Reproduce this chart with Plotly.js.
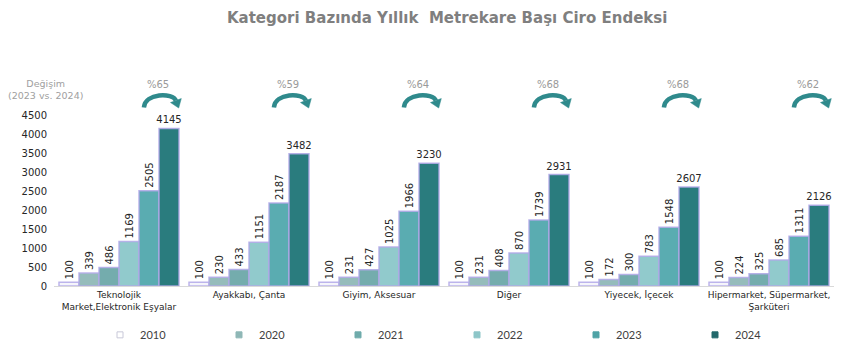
<!DOCTYPE html>
<html>
<head>
<meta charset="utf-8">
<script src="https://cdn.plot.ly/plotly-3.0.1.min.js"></script>
<style>html,body{margin:0;padding:0;background:#fff;}#chart{width:860px;height:353px;}</style>
</head>
<body>
<div id="chart"></div>
<script>
const categories = [
  "Teknolojik<br>Market,Elektronik Eşyalar",
  "Ayakkabı, Çanta",
  "Giyim, Aksesuar",
  "Diğer",
  "Yiyecek, İçecek",
  "Hipermarket, Süpermarket,<br>Şarküteri"
];
const years = ["2010", "2020", "2021", "2022", "2023", "2024"];
const v2010 = [100, 100, 100, 100, 100, 100];
const v2020 = [339, 230, 231, 231, 172, 224];
const v2021 = [486, 433, 427, 408, 300, 325];
const v2022 = [1169, 1151, 1025, 870, 783, 685];
const v2023 = [2505, 2187, 1966, 1739, 1548, 1311];
const v2024 = [4145, 3482, 3230, 2931, 2607, 2126];
const changePct = [65, 59, 64, 68, 68, 62];
const yTicks = [0, 500, 1000, 1500, 2000, 2500, 3000, 3500, 4000, 4500];

const seriesValues = [v2010, v2020, v2021, v2022, v2023, v2024];
const barColors = ["#f5f5fb", "#95bcbb", "#74acad", "#91cacc", "#5aacb1", "#2a7c7e"];
const legendColors = ["#ffffff", "#8fb7b6", "#6fabab", "#8dc6c8", "#4fa3a6", "#22686b"];

const traces = [];
seriesValues.forEach((vals, k) => {
  traces.push({
    type: "bar",
    name: years[k],
    x: categories,
    y: vals,
    text: vals.map(String),
    textposition: "outside",
    textangle: k === 5 ? 0 : -90,
    constraintext: "none",
    cliponaxis: false,
    textfont: {family: "DejaVu Sans", size: 10, color: "#262626"},
    marker: {color: barColors[k], line: {color: "rgba(178,168,232,0.85)", width: 1.5}},
    showlegend: false,
    hoverinfo: "x+y+name"
  });
});
// legend entries (small square markers)
seriesValues.forEach((vals, k) => {
  traces.push({
    type: "scatter", mode: "markers", name: years[k],
    x: [null], y: [null],
    marker: {symbol: "square", size: 6, color: legendColors[k], line: {color: k === 0 ? "#c8c8d8" : legendColors[k], width: 1}},
    showlegend: true, hoverinfo: "skip"
  });
});

const W = 780, H = 171.5; // plot area px
const px = d => d / W;
const baseY = 286;
const yp = p => ((baseY - p) / H).toFixed(5); // screen y to paper
const teal = "#2f8a8c";

const shapes = [];
const annotations = [];
categories.forEach((c, i) => {
  const cx = (i + 0.5 + 0.33) / 6;
  const X = d => (cx + px(d)).toFixed(5);
  shapes.push({
    type: "path", xref: "paper", yref: "paper",
    path: `M${X(-18)},${yp(107)} C${X(-17)},${yp(92)} ${X(11)},${yp(92)} ${X(14)},${yp(100)}`,
    line: {color: teal, width: 4.5}
  });
  shapes.push({
    type: "path", xref: "paper", yref: "paper",
    path: `M${X(8.6)},${yp(102)} L${X(19.4)},${yp(98)} L${X(16.8)},${yp(107.5)} Z`,
    line: {color: teal, width: 0.5}, fillcolor: teal
  });
  annotations.push({
    xref: "paper", yref: "paper", x: (i + 0.5 + 0.30) / 6, y: yp(84),
    text: "%" + changePct[i], showarrow: false,
    font: {family: "DejaVu Sans", size: 10, color: "#9a9a9a"},
    xanchor: "center", yanchor: "middle"
  });
});
annotations.push({
  xref: "paper", yref: "paper", x: px(-9), y: yp(89),
  text: "Değişim<br>(2023 vs. 2024)", showarrow: false,
  font: {family: "DejaVu Sans", size: 9.5, color: "#a0a0a0"},
  xanchor: "center", yanchor: "middle"
});

const layout = {
  width: 860, height: 353,
  margin: {l: 54, r: 26, t: 114.5, b: 67, autoexpand: false},
  paper_bgcolor: "#ffffff", plot_bgcolor: "#ffffff",
  title: {
    text: "Kategori Bazında Yıllık  Metrekare Başı Ciro Endeksi",
    font: {family: "DejaVu Sans", size: 15, color: "#7f7f7f", weight: "bold"},
    x: 0.52, xanchor: "center", y: 1 - 18 / 353, yanchor: "middle"
  },
  barmode: "group", bargap: 0.077, bargroupgap: 0,
  xaxis: {
    type: "category", range: [-0.5, 5.5], showgrid: false, zeroline: false,
    showline: true, linecolor: "#d9d9d9", linewidth: 1, ticks: "",
    tickfont: {family: "DejaVu Sans", size: 9, color: "#262626"}
  },
  yaxis: {
    range: [0, 4500], tickvals: yTicks, ticktext: yTicks.map(String),
    showgrid: false, zeroline: false, showline: false, ticks: "",
    ticklabelstandoff: 6,
    tickfont: {family: "DejaVu Sans", size: 10, color: "#262626"}
  },
  legend: {
    orientation: "h", x: px(100 - 54), xanchor: "left", y: Number(yp(335)), yanchor: "middle",
    entrywidth: 74, entrywidthmode: "pixels",
    font: {family: "Lato", size: 11, color: "#404040"},
    itemclick: false
  },
  shapes: shapes,
  annotations: annotations,
  showlegend: true
};
annotations.forEach(a => { a.y = Number(a.y); });

Plotly.newPlot("chart", traces, layout, {displayModeBar: false, staticPlot: true});
</script>
</body>
</html>
